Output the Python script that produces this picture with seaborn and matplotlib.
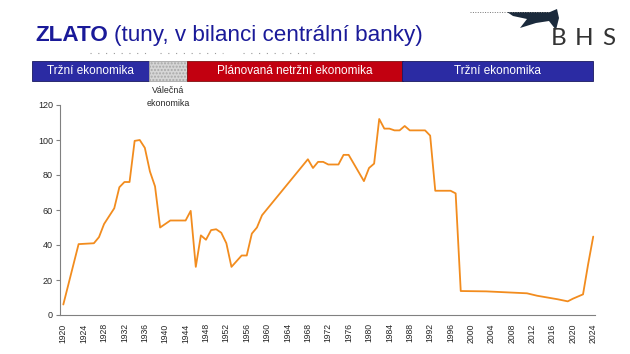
import pandas as pd
import seaborn as sns
from matplotlib import pyplot as plt
from matplotlib.patches import Rectangle, Polygon
from matplotlib.lines import Line2D

sns.set_style('white')
plt.rcParams['font.family'] = ['Liberation Sans', 'DejaVu Sans']

# gold reserves of the central bank (tonnes)
years = [1920, 1923, 1926, 1927, 1928, 1929, 1930, 1931, 1932, 1933, 1934, 1935,
         1936, 1937, 1938, 1939, 1941, 1944, 1945, 1946, 1947, 1948, 1949, 1950,
         1951, 1952, 1953, 1955, 1956, 1957, 1958, 1959, 1968, 1969, 1970, 1971,
         1972, 1974, 1975, 1976, 1979, 1980, 1981, 1982, 1983, 1984, 1985, 1986,
         1987, 1988, 1991, 1992, 1993, 1996, 1997, 1998, 2003, 2011, 2013, 2015,
         2017, 2019, 2020, 2022, 2023, 2024]
tons = [6, 40.5, 41, 44.5, 52, 56.5, 61, 73, 76, 76, 99.5, 100,
        95.5, 82, 73.5, 50, 54, 54, 59.5, 27.5, 45.5, 43, 48.5, 49,
        47, 41, 27.5, 34, 34, 46.5, 50, 57, 89, 84, 87.5, 87.5,
        86, 86, 91.5, 91.5, 76.5, 84, 86.5, 112, 106.5, 106.5, 105.5, 105.5,
        108, 105.5, 105.5, 102.5, 71, 71, 69.5, 13.7, 13.5, 12.4, 11, 10,
        9, 7.8, 9.3, 11.8, 29, 44.8]
tick_years = list(range(1920, 2025, 4))
y_ticks = [0, 20, 40, 60, 80, 100, 120]

band_labels = ['Tržní ekonomika', '', 'Plánovaná netržní ekonomika', 'Tržní ekonomika']
band_colors = ['#2B2BA3', '#D6D6D6', '#C20010', '#2B2BA3']
band_edges = [32, 149, 187, 402.5, 592.5]

W, H = 630, 354
def P(x, y):
    return x / W, 1 - y / H

df = pd.DataFrame({'rok': years, 'tuny': tons})

fig = plt.figure(figsize=(6.3, 3.54), dpi=100)
ax = fig.add_axes([60 / W, 1 - 315 / H, 535 / W, 210 / H])
sns.lineplot(data=df, x='rok', y='tuny', color='#F28C1E', linewidth=1.3, ax=ax)
ax.set_xlim(1919.35, 2024.35)
ax.set_ylim(0, 120)
ax.set_xticks(tick_years)
ax.set_xticklabels([str(y) for y in tick_years], rotation=90, fontsize=6.2)
ax.set_yticks(y_ticks)
ax.set_yticklabels([str(v) for v in y_ticks], fontsize=6.5)
ax.tick_params(axis='x', length=0, pad=6)
ax.tick_params(axis='y', left=True, length=3, width=0.8, color='#808080', pad=2)
ax.set_xlabel('')
ax.set_ylabel('')
for s in ['top', 'right']:
    ax.spines[s].set_visible(False)
for s in ['left', 'bottom']:
    ax.spines[s].set_color('#808080')
    ax.spines[s].set_linewidth(0.8)

# title
navy = '#1A1A99'
t1 = fig.text(*P(35, 40.7), 'ZLATO', fontsize=16.2, fontweight='bold', color=navy, va='baseline')
fig.canvas.draw()
bb = t1.get_window_extent()
fig.text((bb.x1 + 6) / W, 1 - 40.7 / H, '(tuny, v bilanci centrální banky)',
         fontsize=16.2, color=navy, va='baseline')

# faint dots under the title
for x0, x1 in [(90, 147), (160, 223), (243, 315)]:
    fig.add_artist(Line2D([x0 / W, x1 / W], [1 - 52.7 / H] * 2, color='#9A9A9A',
                          lw=0.8, linestyle=(0, (1, 6))))

# band of economic periods
for i, lab in enumerate(band_labels):
    x0, x1 = band_edges[i], band_edges[i + 1]
    edge = '#1A1A60'
    if i == 2:
        edge = '#801010'
    if lab == '':
        edge = '#A8A8A8'
    r = Rectangle(P(x0, 80.5), (x1 - x0) / W, 19.5 / H, transform=fig.transFigure,
                  facecolor=band_colors[i], edgecolor=edge,
                  lw=0.6, hatch='.....' if lab == '' else None)
    fig.add_artist(r)
    if lab:
        fig.text(*P((x0 + x1) / 2, 71), lab, fontsize=8.5, color='white',
                 ha='center', va='center')
fig.text(*P(168, 90.7), 'Válečná', fontsize=6.4, ha='center', va='center')
fig.text(*P(168, 103.3), 'ekonomika', fontsize=6.4, ha='center', va='center')

# logo
fig.add_artist(Line2D([470 / W, 550 / W], [1 - 12 / H] * 2, color='#777777',
                      lw=0.7, linestyle=(0, (1, 1.5))))
swoosh = [(507, 12), (550, 12), (557, 9), (559, 18), (556, 30), (549, 21),
          (536, 23), (520, 28), (527, 19), (513, 16)]
fig.add_artist(Polygon([P(x, y) for x, y in swoosh], closed=True,
                       transform=fig.transFigure, facecolor='#1B2A3C', edgecolor='none'))
for ch, cx in zip('BHS', [559, 584, 608.5]):
    fig.text(*P(cx, 45), ch, fontsize=17.5, color='#333333', ha='center', va='baseline',
             family=['Lato', 'DejaVu Sans'])

fig.savefig('out.png', dpi=100)
